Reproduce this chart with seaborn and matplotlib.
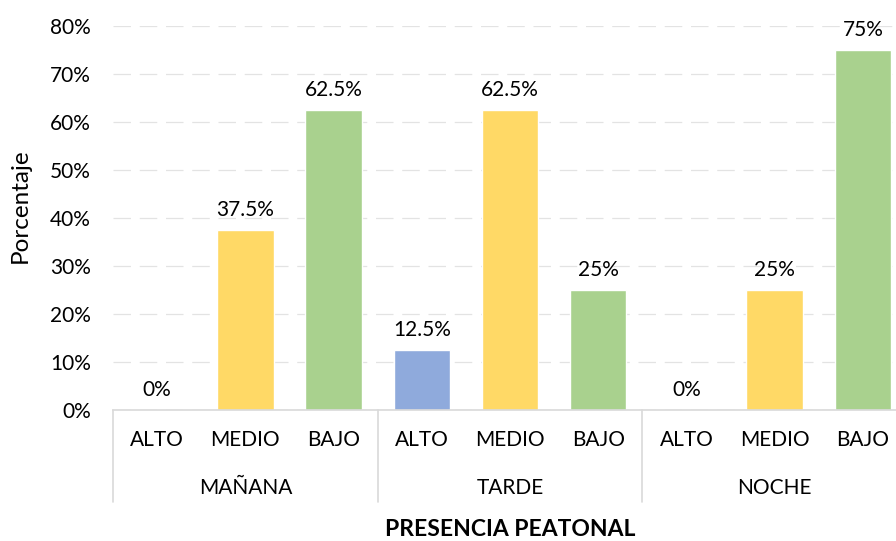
import pandas as pd
import seaborn as sns
import matplotlib.pyplot as plt
import matplotlib.transforms as mtransforms
from matplotlib.ticker import PercentFormatter

# data
periodos = ['MAÑANA', 'TARDE', 'NOCHE']
niveles = ['ALTO', 'MEDIO', 'BAJO']
manana = [0.0, 37.5, 62.5]
tarde = [12.5, 62.5, 25.0]
noche = [0.0, 25.0, 75.0]
etiquetas = ['0%', '37.5%', '62.5%', '12.5%', '62.5%', '25%', '0%', '25%', '75%']

colores = {'ALTO': '#8FAADC', 'MEDIO': '#FFD966', 'BAJO': '#A9D18E'}

rows = []
for p, vals in zip(periodos, [manana, tarde, noche]):
    for n, v in zip(niveles, vals):
        rows.append({'periodo': p, 'nivel': n, 'valor': v / 100, 'clave': p + '-' + n})
df = pd.DataFrame(rows)

sns.set_style('white')
plt.rcParams['font.family'] = ['Lato', 'DejaVu Sans']
plt.rcParams['text.color'] = 'black'
plt.rcParams['ytick.color'] = 'black'
plt.rcParams['ytick.labelcolor'] = 'black'

fig = plt.figure(figsize=(8.96, 5.41), dpi=100)
ax = fig.add_axes([113 / 896, 131 / 541, 794 / 896, 384 / 541])

sns.barplot(data=df, x='clave', y='valor', hue='nivel', palette=colores,
            dodge=False, width=0.64, ax=ax, legend=False, saturation=1)

ax.set_ylim(0, 0.8)
ax.set_xlim(-0.5, 8.5)
ax.set_yticks([i / 10 for i in range(9)])
ax.yaxis.set_major_formatter(PercentFormatter(1.0, decimals=0))
ax.tick_params(axis='y', length=0, pad=16, labelsize=15, labelcolor='black')
ax.tick_params(axis='x', length=0)
ax.set_xticklabels([])
ax.set_xlabel('')
ax.set_ylabel('')
ax.yaxis.grid(True, color='#E3E3E3', linewidth=0.9, linestyle=(0, (14, 7)))
ax.set_axisbelow(True)
for s in ['top', 'right', 'left']:
    ax.spines[s].set_visible(False)
ax.spines['bottom'].set_color('#D9D9D9')
ax.spines['bottom'].set_linewidth(1.2)

# value labels above bars
for i, (v, t) in enumerate(zip(df['valor'], etiquetas)):
    ax.annotate(t, (i, v), xytext=(0, 7), textcoords='offset points',
                ha='center', va='bottom', fontsize=15, color='black')

# two-level category axis
trans = mtransforms.blended_transform_factory(ax.transData, ax.transAxes)
for i, n in enumerate(df['nivel']):
    ax.text(i, -0.078, n, transform=trans, ha='center', va='center',
            fontsize=15, color='black')
for j, p in enumerate(periodos):
    ax.text(3 * j + 1, -0.203, p, transform=trans, ha='center', va='center',
            fontsize=15, color='black')
for xb in [-0.5, 2.5, 5.5, 8.5]:
    ax.plot([xb, xb], [0, -0.24], transform=trans, color='#D9D9D9',
            linewidth=1.2, clip_on=False)

ax.text(0.5, -0.3125, 'PRESENCIA PEATONAL', transform=ax.transAxes,
        ha='center', va='center', fontsize=16.5, fontweight='bold', color='black')
fig.text(20 / 896, 1 - 206 / 541, 'Porcentaje', rotation=90,
         ha='center', va='center', fontsize=17.5, color='black')

fig.savefig('out.png', dpi=100)
